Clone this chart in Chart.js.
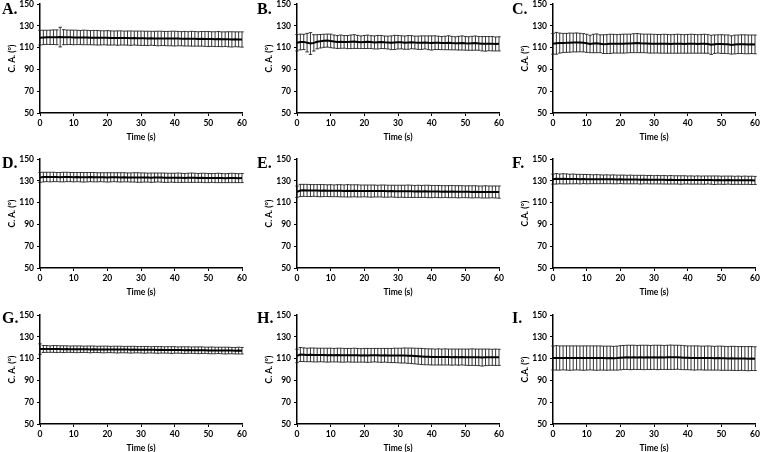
<!DOCTYPE html>
<html>
<head>
<meta charset="utf-8">
<script src="https://cdn.jsdelivr.net/npm/chart.js@4.4.1/dist/chart.umd.min.js"></script>
<style>
  body { margin: 0; background: #fff; width: 762px; height: 452px; position: relative; overflow: hidden; }
  .box { position: absolute; width: 256px; height: 147px; }
  .tag { position: absolute; font: bold 16px "Liberation Serif", serif; color: #000; line-height: 16px; }
</style>
</head>
<body>
<script>
// time points (s)
const time = [0,1,2,3,4,5,6,7,8,9,10,11,12,13,14,15,16,17,18,19,20,21,22,23,24,25,26,27,28,29,30,
  31,32,33,34,35,36,37,38,39,40,41,42,43,44,45,46,47,48,49,50,51,52,53,54,55,56,57,58,59,60];
const xTicks = [0, 10, 20, 30, 40, 50, 60];
const yTicks = [50, 70, 90, 110, 130, 150];

// contact angle, mean and SD per panel
const meanA = [119.2,119.4,119.5,119.5,119.6,119.5,119.7,119.6,119.5,119.5,119.4,
  119.4,119.3,119.4,119.3,119.2,119.2,119.1,119.0,119.1,119.0,
  118.9,118.9,118.8,118.9,118.8,118.8,118.7,118.8,118.7,118.6,
  118.6,118.5,118.6,118.5,118.4,118.5,118.4,118.3,118.4,118.3,
  118.3,118.2,118.2,118.1,118.2,118.1,118.0,118.1,118.0,117.9,
  117.9,117.8,117.9,117.7,117.8,117.7,117.6,117.7,117.6,117.5];
const sdA = [6.8,6.6,6.5,6.6,6.7,6.8,9.0,6.9,6.7,6.6,6.7,
  6.6,6.5,6.7,6.6,6.5,6.6,6.7,6.5,6.4,6.6,
  6.5,6.4,6.6,6.5,6.4,6.5,6.6,6.4,6.5,6.6,
  6.5,6.6,6.4,6.5,6.7,6.6,6.5,6.6,6.7,6.8,
  6.6,6.5,6.7,6.6,6.8,6.7,6.6,6.7,6.8,6.9,
  6.7,6.8,6.9,6.8,6.7,6.9,7.0,6.8,6.9,7.0];

const meanB = [114.5,115.2,115.3,114.6,113.8,114.4,115.4,115.9,116.3,116.5,116.2,
  115.6,115.2,115.5,115.3,115.1,115.4,115.6,115.3,115.0,115.2,
  115.4,115.1,114.8,115.0,115.2,114.9,114.7,114.5,114.8,115.0,
  114.9,114.6,114.8,115.0,114.7,114.5,114.6,114.8,114.5,114.3,
  114.6,114.4,114.2,114.3,114.5,114.2,114.0,114.1,114.3,114.0,
  113.8,114.0,114.2,113.9,113.6,113.5,113.7,113.6,113.4,113.5];
const sdB = [7.5,7.2,7.0,8.5,10.0,7.5,6.5,6.2,6.0,6.0,6.2,
  6.0,5.9,6.1,5.8,6.0,6.2,6.3,6.0,5.8,6.0,
  6.1,5.9,6.0,6.2,6.0,5.8,5.9,6.3,6.5,6.2,
  6.0,6.1,6.3,6.0,5.9,6.1,6.2,6.0,6.3,6.5,
  6.3,6.1,6.0,6.2,6.4,6.2,6.0,6.3,6.5,6.3,
  6.2,6.4,6.5,6.3,6.6,6.7,6.5,6.6,6.4,6.5];

const meanC = [113.5,114.0,114.2,114.3,114.4,114.6,114.7,114.8,114.7,114.5,114.0,
  113.4,113.8,114.0,113.6,113.2,113.3,113.5,113.6,113.5,113.6,
  113.7,113.8,113.9,114.1,114.2,114.0,113.9,113.8,113.7,113.6,
  113.6,113.5,113.6,113.5,113.4,113.5,113.6,113.5,113.4,113.5,
  113.6,113.5,113.4,113.5,113.6,113.4,112.6,113.2,113.4,113.3,
  113.2,113.1,112.5,112.9,113.1,113.2,113.1,113.0,113.1,113.0];
const sdC = [9.5,10.0,9.2,8.8,8.7,8.8,8.6,8.7,8.5,8.4,8.3,
  8.0,8.5,8.6,8.2,8.6,8.7,8.8,8.6,8.5,8.6,
  8.7,8.6,8.5,8.7,8.8,8.6,8.5,8.6,8.7,8.6,
  8.5,8.6,8.7,8.6,8.5,8.6,8.7,8.6,8.5,8.6,
  8.7,8.6,8.5,8.6,8.7,8.6,8.8,8.5,8.4,8.6,
  8.5,8.6,8.4,8.6,8.5,8.6,8.7,8.6,8.5,8.6];

const meanD = [133.2,133.5,133.6,133.5,133.6,133.5,133.4,133.5,133.6,133.5,133.4,
  133.5,133.4,133.3,133.4,133.5,133.4,133.3,133.4,133.3,133.2,
  133.3,133.4,133.3,133.2,133.3,133.2,133.1,133.2,133.1,133.0,
  133.1,133.0,132.9,133.0,133.1,133.0,132.9,132.8,132.9,132.8,
  132.9,132.8,132.7,132.8,132.9,132.8,132.7,132.8,132.7,132.6,
  132.7,132.6,132.7,132.6,132.5,132.6,132.7,132.6,132.5,132.6];
const sdD = [4.6,4.4,4.3,4.4,4.3,4.2,4.3,4.4,4.3,4.2,4.3,
  4.2,4.3,4.4,4.3,4.2,4.3,4.2,4.1,4.2,4.3,
  4.2,4.1,4.2,4.3,4.2,4.1,4.2,4.3,4.4,4.3,
  4.2,4.1,4.3,4.2,4.1,4.2,4.3,4.2,4.1,4.2,
  4.3,4.2,4.1,4.2,4.3,4.2,4.1,4.2,4.3,4.2,
  4.1,4.2,4.3,4.2,4.1,4.2,4.3,4.2,4.1,4.2];

const meanE = [120.0,121.2,121.3,121.2,121.1,121.2,121.1,121.0,121.1,121.0,121.0,
  120.9,121.0,120.9,120.8,120.9,120.8,120.9,120.8,120.7,120.8,
  120.7,120.6,120.7,120.6,120.7,120.6,120.5,120.6,120.5,120.4,
  120.5,120.4,120.5,120.4,120.3,120.4,120.3,120.4,120.3,120.2,
  120.3,120.2,120.1,120.2,120.1,120.2,120.1,120.0,120.1,120.0,
  120.0,119.9,120.0,119.9,119.8,119.9,119.8,119.9,119.8,119.7];
const sdE = [5.2,5.6,5.5,5.6,5.5,5.4,5.5,5.6,5.5,5.4,5.5,
  5.4,5.5,5.6,5.5,5.7,5.6,5.5,5.6,5.5,5.4,
  5.5,5.6,5.5,5.4,5.5,5.6,5.5,5.4,5.5,5.6,
  5.5,5.6,5.7,5.6,5.5,5.6,5.5,5.6,5.7,5.6,
  5.5,5.6,5.5,5.4,5.5,5.6,5.5,5.6,5.5,5.4,
  5.5,5.6,5.5,5.4,5.5,5.6,5.5,5.4,5.5,5.6];

const meanF = [131.6,131.9,131.8,131.9,131.8,131.7,131.8,131.7,131.6,131.7,131.6,
  131.6,131.5,131.6,131.5,131.4,131.5,131.4,131.4,131.3,131.4,
  131.3,131.2,131.3,131.2,131.2,131.1,131.2,131.1,131.1,131.0,
  131.1,131.0,131.0,130.9,131.0,130.9,130.9,130.8,130.9,130.8,
  130.8,130.7,130.8,130.7,130.7,130.8,130.7,130.6,130.7,130.6,
  130.6,130.7,130.6,130.5,130.6,130.5,130.6,130.5,130.5,130.4];
const sdF = [4.6,4.8,4.5,4.7,4.6,4.4,4.5,4.3,4.4,4.2,4.3,
  4.2,4.1,4.2,4.1,4.0,4.1,4.0,4.1,4.0,3.9,
  4.0,3.9,4.0,3.9,3.9,4.0,3.9,3.8,3.9,3.8,
  3.9,3.8,3.9,3.8,3.9,3.8,3.8,3.9,3.8,3.7,
  3.8,3.7,3.8,3.7,3.8,3.7,3.8,3.9,3.8,3.7,
  3.8,3.7,3.8,3.7,3.8,3.7,3.8,3.7,3.8,3.7];

const meanG = [118.8,118.9,118.9,118.8,118.9,118.8,118.8,118.7,118.8,118.7,118.7,
  118.6,118.7,118.6,118.6,118.5,118.6,118.5,118.5,118.4,118.5,
  118.4,118.4,118.3,118.4,118.3,118.3,118.2,118.3,118.2,118.2,
  118.1,118.2,118.1,118.1,118.0,118.1,118.0,118.0,117.9,118.0,
  117.9,117.9,117.8,117.9,117.8,117.8,117.7,117.8,117.7,117.6,
  117.6,117.5,117.6,117.5,117.4,117.5,117.4,117.3,117.4,117.3];
const sdG = [4.8,3.2,3.1,3.0,3.1,3.2,3.0,3.1,3.0,2.9,3.0,
  3.1,3.0,2.9,3.0,3.1,3.0,2.9,3.0,3.1,3.0,
  2.9,3.0,3.1,3.0,2.9,3.0,3.1,3.0,2.9,3.0,
  3.1,3.0,2.9,3.0,3.1,3.0,2.9,3.0,3.1,3.0,
  2.9,3.0,3.1,3.0,2.9,3.0,3.1,3.0,2.9,3.0,
  3.1,3.0,2.9,3.0,3.1,3.0,2.9,3.0,3.1,3.0];

const meanH = [112.5,113.8,113.6,113.4,113.5,113.4,113.3,113.4,113.3,113.2,113.3,
  113.2,113.3,113.2,113.1,113.2,113.1,113.2,113.1,113.0,113.1,
  113.0,113.1,113.2,113.1,113.0,113.1,113.0,112.9,113.0,112.9,
  112.8,112.9,112.7,112.6,112.4,112.2,112.0,111.8,111.7,111.6,
  111.5,111.6,111.5,111.6,111.5,111.4,111.5,111.4,111.5,111.4,
  111.3,111.4,111.3,111.2,111.0,111.2,111.3,111.2,111.3,111.2];
const sdH = [6.2,6.4,6.3,6.2,6.3,6.4,6.3,6.2,6.3,6.4,6.3,
  6.2,6.3,6.4,6.3,6.2,6.3,6.4,6.3,6.2,6.3,
  6.4,6.3,6.2,6.3,6.4,6.3,6.4,6.5,6.6,6.7,
  6.8,6.9,7.0,7.1,7.2,7.3,7.4,7.4,7.3,7.4,
  7.3,7.4,7.3,7.4,7.3,7.4,7.3,7.4,7.3,7.4,
  7.5,7.6,7.5,7.6,7.8,7.6,7.5,7.4,7.5,7.4];

const meanI = [110.6,110.7,110.6,110.7,110.6,110.5,110.6,110.7,110.6,110.5,110.6,
  110.7,110.6,110.5,110.6,110.5,110.4,110.5,110.4,110.5,110.8,
  111.1,111.2,111.1,111.2,111.1,111.2,111.1,111.2,111.1,111.2,
  111.1,111.2,111.1,111.2,111.3,111.2,111.3,111.1,110.9,110.8,
  110.7,110.6,110.7,110.6,110.5,110.6,110.5,110.4,110.5,110.4,
  110.3,110.2,110.3,110.2,110.1,110.2,110.1,110.0,110.1,110.0];
const sdI = [11.0,11.2,11.1,11.0,11.1,11.2,11.1,11.0,11.1,11.2,11.1,
  11.0,11.1,11.2,11.1,11.0,11.1,11.0,10.9,11.0,11.1,
  11.0,11.1,11.2,11.1,11.0,11.1,11.2,11.1,11.0,11.1,
  11.2,11.1,11.0,11.1,11.2,11.1,11.0,11.1,11.0,10.9,
  11.0,11.1,11.0,10.9,11.0,11.1,11.0,10.9,11.0,11.1,
  11.0,10.9,11.0,11.1,11.0,10.9,11.0,11.1,11.0,10.9];

const panels = [
  { tag: "A.", yTitle: "C. A. (°)", mean: meanA, sd: sdA, col: 0, row: 0 },
  { tag: "B.", yTitle: "C. A. (°)", mean: meanB, sd: sdB, col: 1, row: 0 },
  { tag: "C.", yTitle: "C.A. (°)",  mean: meanC, sd: sdC, col: 2, row: 0 },
  { tag: "D.", yTitle: "C. A. (°)", mean: meanD, sd: sdD, col: 0, row: 1 },
  { tag: "E.", yTitle: "C. A. (°)", mean: meanE, sd: sdE, col: 1, row: 1 },
  { tag: "F.", yTitle: "C.A. (°)",  mean: meanF, sd: sdF, col: 2, row: 1 },
  { tag: "G.", yTitle: "C. A. (°)", mean: meanG, sd: sdG, col: 0, row: 2 },
  { tag: "H.", yTitle: "C. A. (°)", mean: meanH, sd: sdH, col: 1, row: 2 },
  { tag: "I.", yTitle: "C.A. (°)",  mean: meanI, sd: sdI, col: 2, row: 2 },
];

// where each plot's y axis sits and where its top (150) is
const axisX = [40, 297, 553];
const plotTop = [4, 159, 315];
const tagX = [2, 257, 512];
const tagY = [1, 155, 310];

// draws the SD whiskers behind the mean line
const errorBars = {
  id: "errorBars",
  beforeDatasetsDraw(chart) {
    const ctx = chart.ctx;
    const xs = chart.scales.x;
    const ys = chart.scales.y;
    const ds = chart.data.datasets[0];
    ctx.save();
    ctx.strokeStyle = "#1e1e1e";
    ctx.lineWidth = 0.9;
    ds.data.forEach((p, i) => {
      const px = xs.getPixelForValue(p.x);
      const top = ys.getPixelForValue(p.y + ds.errors[i]);
      const bot = ys.getPixelForValue(p.y - ds.errors[i]);
      ctx.beginPath();
      ctx.moveTo(px, top);
      ctx.lineTo(px, bot);
      ctx.moveTo(px - 1.7, top);
      ctx.lineTo(px + 1.7, top);
      ctx.moveTo(px - 1.7, bot);
      ctx.lineTo(px + 1.7, bot);
      ctx.stroke();
    });
    ctx.restore();
  },
};

const tickFont = { family: "Lato", size: 8.5, weight: "bold" };
const titleFont = { family: "Lato", size: 8.5, weight: "bold" };

panels.forEach((p) => {
  const box = document.createElement("div");
  box.className = "box";
  box.style.left = (axisX[p.col] - 40) + "px";
  box.style.top = (plotTop[p.row] - 8) + "px";
  const canvas = document.createElement("canvas");
  box.appendChild(canvas);
  document.body.appendChild(box);

  const tag = document.createElement("div");
  tag.className = "tag";
  tag.textContent = p.tag;
  tag.style.left = tagX[p.col] + "px";
  tag.style.top = tagY[p.row] + "px";
  document.body.appendChild(tag);

  new Chart(canvas, {
    type: "line",
    data: {
      datasets: [
        {
          data: time.map((t, i) => ({ x: t, y: p.mean[i] })),
          errors: p.sd,
          borderColor: "#000",
          borderWidth: 2,
          pointRadius: 0,
          tension: 0,
          fill: false,
        },
      ],
    },
    options: {
      responsive: true,
      maintainAspectRatio: false,
      animation: false,
      layout: { padding: { top: 8, right: 14, left: 0, bottom: 0 } },
      plugins: { legend: { display: false }, tooltip: { enabled: false } },
      scales: {
        x: {
          type: "linear",
          min: 0,
          max: 60,
          afterBuildTicks: (s) => { s.ticks = xTicks.map((v) => ({ value: v })); },
          afterFit: (s) => { s.height = 30; },
          border: { color: "#000", width: 1.5 },
          grid: { drawOnChartArea: false, drawTicks: true, tickLength: 3, tickColor: "#000", lineWidth: 1 },
          ticks: { color: "#000", font: tickFont, padding: 2, maxRotation: 0 },
          title: { display: true, text: "Time (s)", color: "#000", font: titleFont, padding: { top: 0, bottom: 1 } },
        },
        y: {
          min: 50,
          max: 150,
          afterBuildTicks: (s) => { s.ticks = yTicks.map((v) => ({ value: v })); },
          afterFit: (s) => { s.width = 40; },
          border: { color: "#000", width: 1.5 },
          grid: { drawOnChartArea: false, drawTicks: true, tickLength: 3, tickColor: "#000", lineWidth: 1 },
          ticks: { color: "#000", font: tickFont, padding: 3 },
          title: { display: true, text: p.yTitle, color: "#000", font: titleFont, padding: { top: 7, bottom: 0 } },
        },
      },
    },
    plugins: [errorBars],
  });
});
</script>
</body>
</html>
